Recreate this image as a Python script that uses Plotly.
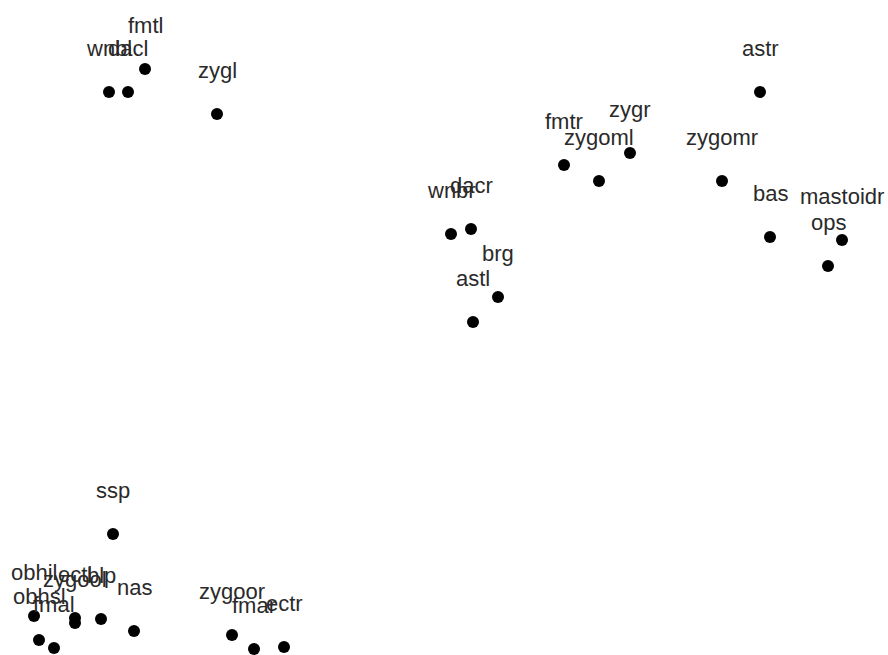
import plotly.graph_objects as go

labels = ["fmtl", "wnbl", "dacl", "zygl", "astr", "fmtr", "zygr", "zygoml",
          "zygomr", "wnbr", "dacr", "brg", "astl", "bas", "mastoidr", "ops",
          "ssp", "obhil", "ectl", "zygool", "blp", "nas", "obhsl", "fmal",
          "zygoor", "fmar", "ectr"]
x_vals = [-3.15, -3.51, -3.32, -2.43, 3.00, 1.04, 1.70, 1.39,
          2.62, -0.09, 0.11, 0.38, 0.13, 3.10, 3.82, 3.68,
          -3.47, -4.26, -3.85, -3.85, -3.59, -3.26, -4.21, -4.06,
          -2.28, -2.06, -1.76]
y_vals = [2.81, 2.58, 2.58, 2.36, 2.58, 1.85, 1.97, 1.69,
          1.69, 1.16, 1.21, 0.53, 0.28, 1.13, 1.10, 0.84,
          -1.84, -2.66, -2.68, -2.73, -2.69, -2.81, -2.90, -2.98,
          -2.85, -2.99, -2.97]

fig = go.Figure()
fig.add_trace(go.Scatter(
    x=x_vals, y=y_vals, mode="markers",
    marker=dict(color="black", size=12),
    hoverinfo="text", text=labels, showlegend=False,
))
for lab, xv, yv in zip(labels, x_vals, y_vals):
    fig.add_annotation(x=xv, y=yv, text=lab, showarrow=False, yshift=44,
                       font=dict(family="Liberation Sans, Arial, sans-serif",
                                 size=22, color="#2a2a2a"))

fig.update_xaxes(range=[-4.6, 4.28], visible=False)
fig.update_yaxes(range=[-3.05, 3.5], visible=False)
fig.update_layout(width=888, height=655, margin=dict(l=0, r=0, t=0, b=0),
                  plot_bgcolor="white", paper_bgcolor="white")
fig.write_html("out.html", config={"displayModeBar": False},
               post_script="document.body.style.margin='0px';")
